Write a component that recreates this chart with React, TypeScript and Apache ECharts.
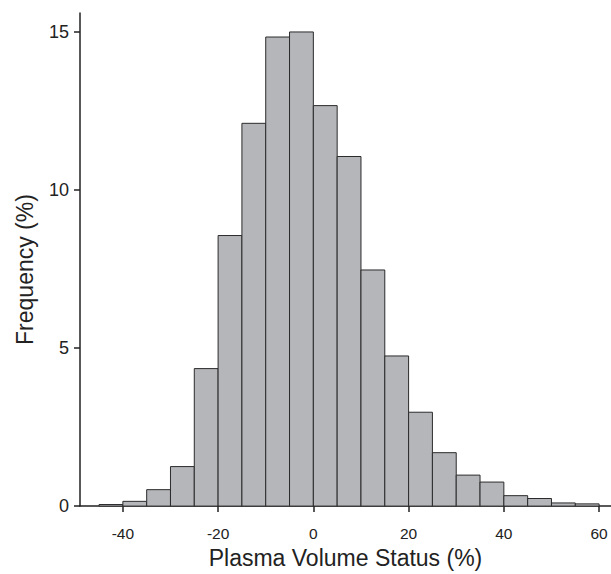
import React, { useEffect, useRef } from "react";
import * as echarts from "echarts";

const binStarts = [-45, -40, -35, -30, -25, -20, -15, -10, -5, 0, 5, 10, 15, 20, 25, 30, 35, 40, 45, 50, 55];
const binEnds = [-40, -35, -30, -25, -20, -15, -10, -5, 0, 5, 10, 15, 20, 25, 30, 35, 40, 45, 50, 55, 60];
const frequency = [0.05, 0.15, 0.52, 1.25, 4.35, 8.56, 12.11, 14.84, 15.0, 12.67, 11.06, 7.47, 4.75, 2.97, 1.69, 0.98, 0.76, 0.33, 0.24, 0.1, 0.07];
const xTicks = [-40, -20, 0, 20, 40, 60];
const yTicks = [0, 5, 10, 15];

export default function App() {
  const ref = useRef<HTMLDivElement>(null);
  useEffect(() => {
    if (!ref.current) return;
    const chart = echarts.init(ref.current, null, { renderer: "svg" });
    const font = "'Liberation Sans', Arial, sans-serif";
    const data = binStarts.map((s, i) => [s, binEnds[i], frequency[i]]);
    chart.setOption({
      animation: false,
      backgroundColor: "#ffffff",
      grid: { left: 80, top: 13, width: 532, height: 502, containLabel: false },
      xAxis: {
        type: "value",
        min: -49,
        max: 62.5,
        name: "Plasma Volume Status (%)",
        nameLocation: "middle",
        nameGap: 36,
        nameTextStyle: { fontFamily: font, fontSize: 23, color: "#222" },
        axisLine: { show: true, onZero: false, lineStyle: { color: "#222", width: 1.5 } },
        axisTick: { show: true, length: 6, customValues: xTicks, lineStyle: { color: "#222", width: 1.5 } },
        axisLabel: { customValues: xTicks, fontFamily: font, fontSize: 15.5, color: "#222", margin: 19 },
        splitLine: { show: false },
      },
      yAxis: {
        type: "value",
        min: 0,
        max: 15.6,
        name: "Frequency (%)",
        nameLocation: "middle",
        nameGap: 44,
        nameTextStyle: { fontFamily: font, fontSize: 23, color: "#222", padding: [0, 20, 0, 0] },
        axisLine: { show: true, onZero: false, lineStyle: { color: "#222", width: 1.5 } },
        axisTick: { show: true, length: 6, customValues: yTicks, lineStyle: { color: "#222", width: 1.5 } },
        axisLabel: { customValues: yTicks, fontFamily: font, fontSize: 18, color: "#222", margin: 11 },
        splitLine: { show: false },
      },
      series: [
        {
          type: "custom",
          data,
          encode: { x: [0, 1], y: 2 },
          renderItem: (params: any, api: any) => {
            const p0 = api.coord([api.value(0), api.value(2)]);
            const p1 = api.coord([api.value(1), 0]);
            return {
              type: "rect",
              shape: { x: p0[0], y: p0[1], width: p1[0] - p0[0], height: p1[1] - p0[1] },
              style: { fill: "#b5b6ba", stroke: "#2b2b2b", lineWidth: 1 },
            };
          },
        },
      ],
    });
    return () => chart.dispose();
  }, []);
  return <div ref={ref} style={{ position: "absolute", left: 0, top: 0, width: 611, height: 574 }} />;
}
